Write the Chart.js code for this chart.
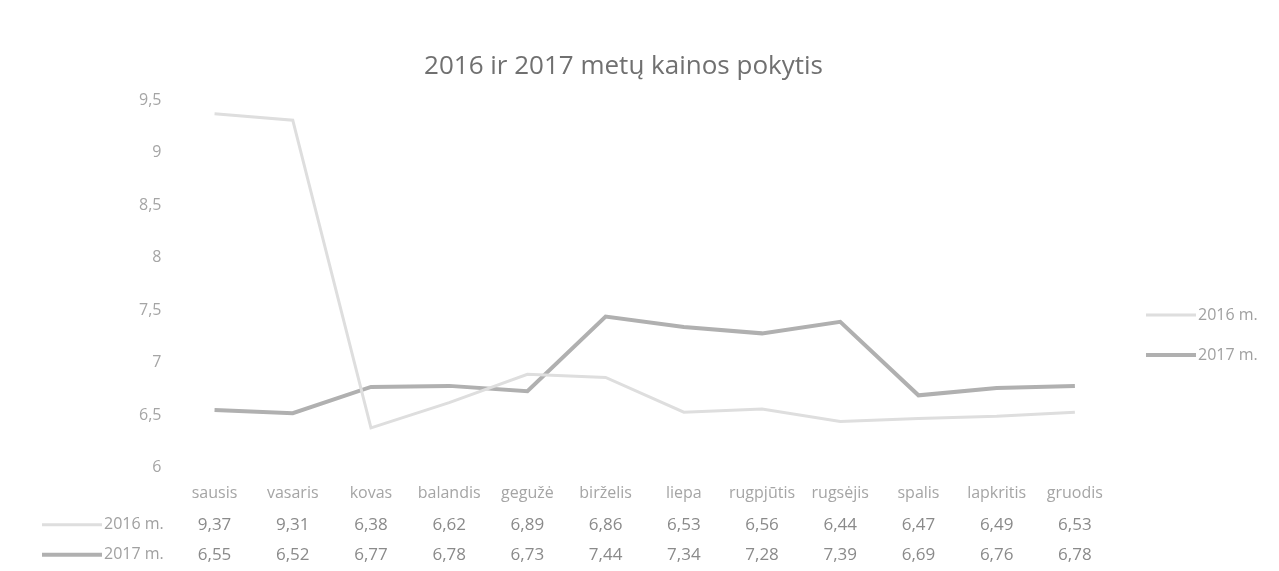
<!DOCTYPE html>
<html>
<head>
<meta charset="utf-8">
<script src="https://cdn.jsdelivr.net/npm/chart.js@4/dist/chart.umd.min.js"></script>
<style>
  html, body { margin: 0; padding: 0; background: #fff; }
  #wrap { width: 1279px; height: 571px; }
</style>
</head>
<body>
<div id="wrap"><canvas id="kainos_chart"></canvas></div>
<script>
// menesiai ir kainos
const menesiai = ['sausis', 'vasaris', 'kovas', 'balandis', 'gegužė', 'birželis', 'liepa', 'rugpjūtis', 'rugsėjis', 'spalis', 'lapkritis', 'gruodis'];
const kainos2016 = [9.37, 9.31, 6.38, 6.62, 6.89, 6.86, 6.53, 6.56, 6.44, 6.47, 6.49, 6.53];
const kainos2017 = [6.55, 6.52, 6.77, 6.78, 6.73, 7.44, 7.34, 7.28, 7.39, 6.69, 6.76, 6.78];
const serijos = ['2016 m.', '2017 m.'];
const yTicks = [6, 6.5, 7, 7.5, 8, 8.5, 9, 9.5];

const fontas = "'Open Sans', 'Noto Sans', sans-serif";

function kablelis(v, d) {
    return (d === undefined ? String(v) : v.toFixed(d)).replace('.', ',');
}

// lentele po grafiku + legenda desineje
const lentelePlugin = {
    id: 'lentele',
    afterDraw(chart) {
        let ctx = chart.ctx;
        let x = chart.scales.x;
        let area = chart.chartArea;
        ctx.save();
        ctx.textBaseline = 'middle';
        chart.data.datasets.forEach(function (ds, k) {
            let y = area.bottom + 57 + k * 30;
            // raktas
            ctx.strokeStyle = ds.borderColor;
            ctx.lineWidth = ds.borderWidth;
            ctx.beginPath();
            ctx.moveTo(42, y);
            ctx.lineTo(102, y);
            ctx.stroke();
            ctx.font = '16px ' + fontas;
            ctx.fillStyle = '#a0a0a0';
            ctx.textAlign = 'left';
            ctx.fillText(ds.label, 104, y);
            ctx.textAlign = 'center';
            ctx.fillStyle = '#8a8a8a';
            ctx.font = '17px ' + fontas;
            ds.data.forEach(function (v, i) {
                ctx.fillText(kablelis(v, 2), x.getPixelForValue(i), y);
            });
            // legenda desineje
            let ly = 315 + k * 40;
            ctx.beginPath();
            ctx.moveTo(1146, ly);
            ctx.lineTo(1196, ly);
            ctx.stroke();
            ctx.textAlign = 'left';
            ctx.fillStyle = '#a0a0a0';
            ctx.font = '16px ' + fontas;
            ctx.fillText(ds.label, 1198, ly);
        });
        ctx.restore();
    }
};

let data = {
    labels: menesiai,
    datasets: [{
        label: serijos[0],
        data: kainos2016,
        borderColor: 'rgb(222, 222, 222)',
        borderWidth: 3,
        pointRadius: 0,
        tension: 0
    }, {
        label: serijos[1],
        data: kainos2017,
        borderColor: 'rgb(176, 176, 176)',
        borderWidth: 4,
        pointRadius: 0,
        tension: 0
    }]
};

let config = {
    type: 'line',
    data: data,
    options: {
        responsive: true,
        maintainAspectRatio: false,
        animation: false,
        layout: { padding: { left: 133, right: 165, top: 20, bottom: 60 } },
        plugins: {
            legend: { display: false },
            tooltip: { enabled: false },
            title: {
                display: true,
                text: '2016 ir 2017 metų kainos pokytis',
                color: '#707070',
                font: { family: fontas, size: 26, weight: 'normal' },
                padding: { top: 31, bottom: 18 }
            }
        },
        scales: {
            x: {
                offset: true,
                grid: { display: false },
                border: { display: false },
                ticks: {
                    color: '#a5a5a5',
                    font: { family: fontas, size: 16 },
                    maxRotation: 0,
                    autoSkip: false,
                    padding: 8
                }
            },
            y: {
                min: yTicks[0],
                max: yTicks[yTicks.length - 1],
                afterBuildTicks(axis) {
                    axis.ticks = yTicks.map(function (v) { return { value: v }; });
                },
                grid: { display: false },
                border: { display: false },
                ticks: {
                    color: '#a5a5a5',
                    font: { family: fontas, size: 16 },
                    padding: 6,
                    callback: function (v) { return kablelis(v); }
                }
            }
        }
    },
    plugins: [lentelePlugin]
};

let kainos_chart = new Chart(document.getElementById('kainos_chart'), config);
</script>
</body>
</html>
